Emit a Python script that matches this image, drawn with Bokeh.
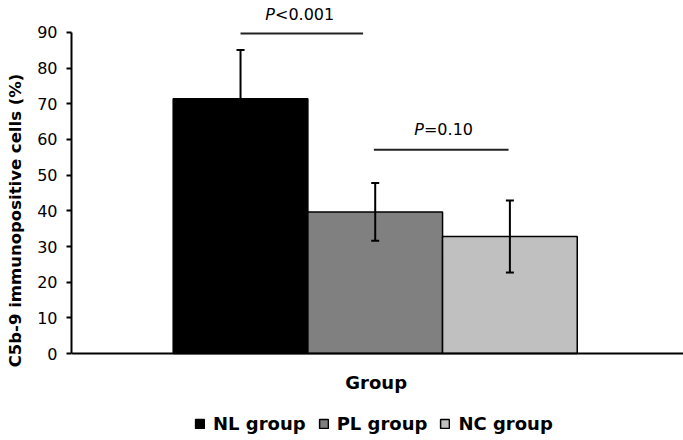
from bokeh.plotting import figure
from bokeh.models import (ColumnDataSource, Whisker, TeeHead, LabelSet, Legend,
                          LegendItem, FixedTicker, Span, Label)
from bokeh.core.properties import value
from bokeh.embed import file_html
from bokeh.resources import INLINE

# ---- data ----
groups = ["NL group", "PL group", "NC group"]
means = [71.4, 39.7, 32.8]
errors = [13.7, 8.1, 10.1]
colors = ["#000000", "#808080", "#c0c0c0"]
y_ticks = [0, 10, 20, 30, 40, 50, 60, 70, 80, 90]

sig_start = [1.0, 1.99]
sig_end = [1.91, 2.99]
sig_level = [89.7, 57.1]
p_x = [1.256, 2.362]
p_y = [93.6, 61.3]
p_letter = ["P", "P"]
p_rest = ["<0.001", "=0.10"]

x_title = "Group"
y_title = "C5b-9 immunopositive cells (%)"

FONT = "DejaVu Sans"

xs = list(range(1, len(groups) + 1))
src = ColumnDataSource(dict(
    x=xs, top=means, group=groups, color=colors,
    upper=[m + e for m, e in zip(means, errors)],
    lower=[m - e for m, e in zip(means, errors)],
))

X0, X1 = -0.255, 4.289
p = figure(width=683, height=440, x_range=(X0, X1), y_range=(-24.39, 98.97),
           output_backend="svg", toolbar_location=None,
           min_border_left=71, min_border_right=0, min_border_top=0,
           min_border_bottom=0)
p.outline_line_color = None
p.grid.visible = False
p.background_fill_color = "white"
p.xaxis.visible = False

bars = p.vbar(x="x", top="top", bottom=0, width=1.0, source=src,
              fill_color="color", line_color="black", line_width=1.5)

p.add_layout(Span(location=0, dimension="width", line_color="black", line_width=2))

wh = Whisker(base="x", upper="upper", lower="lower", source=src,
             line_color="black", line_width=2, level="overlay",
             upper_head=TeeHead(size=8, line_width=2, line_color="black"),
             lower_head=TeeHead(size=8, line_width=2, line_color="black"))
p.add_layout(wh)

sig = ColumnDataSource(dict(x0=sig_start, x1=sig_end, y=sig_level))
p.segment(x0="x0", y0="y", x1="x1", y1="y", source=sig,
          line_color="#222222", line_width=2)

lab = ColumnDataSource(dict(x=p_x, y=p_y, a=p_letter, b=p_rest))
p.add_layout(LabelSet(x="x", y="y", text="a", source=lab, text_align="right",
                      text_baseline="alphabetic", text_font=value(FONT),
                      text_font_style="italic", text_font_size="16px",
                      text_color="black"))
p.add_layout(LabelSet(x="x", y="y", text="b", source=lab, text_align="left",
                      text_baseline="alphabetic", text_font=value(FONT),
                      text_font_size="16px", text_color="black"))

# x title as label under the baseline
p.add_layout(Label(x=(X0 + X1) / 2 - 0.01, y=-8.2, text=x_title, text_align="center",
                   text_baseline="alphabetic", text_font=FONT,
                   text_font_style="bold", text_font_size="18px",
                   text_color="black"))

# y axis
ya = p.yaxis[0]
ya.bounds = (0, 90)
ya.ticker = FixedTicker(ticks=y_ticks)
ya.minor_tick_line_color = None
ya.major_tick_in = 0
ya.major_tick_out = 5
ya.major_tick_line_width = 2
ya.axis_line_width = 2
ya.major_label_standoff = 9
ya.major_label_text_font = FONT
ya.major_label_text_font_size = "16px"
ya.major_label_text_color = "black"
ya.axis_label = y_title
ya.axis_label_text_font = FONT
ya.axis_label_text_font_style = "bold"
ya.axis_label_text_font_size = "16.5px"
ya.axis_label_standoff = 9
ya.axis_label_text_color = "black"

items = [LegendItem(label=g, renderers=[bars], index=i) for i, g in enumerate(groups)]
leg = Legend(items=items, orientation="horizontal", location=(123, 6),
             margin=0, padding=0, spacing=12, glyph_width=11, glyph_height=11,
             label_standoff=8, label_text_font=FONT, label_text_font_style="bold",
             label_text_font_size="18px", label_text_color="black",
             background_fill_alpha=0, border_line_alpha=0)
p.add_layout(leg)

open("out.html", "w").write(file_html(p, INLINE))
